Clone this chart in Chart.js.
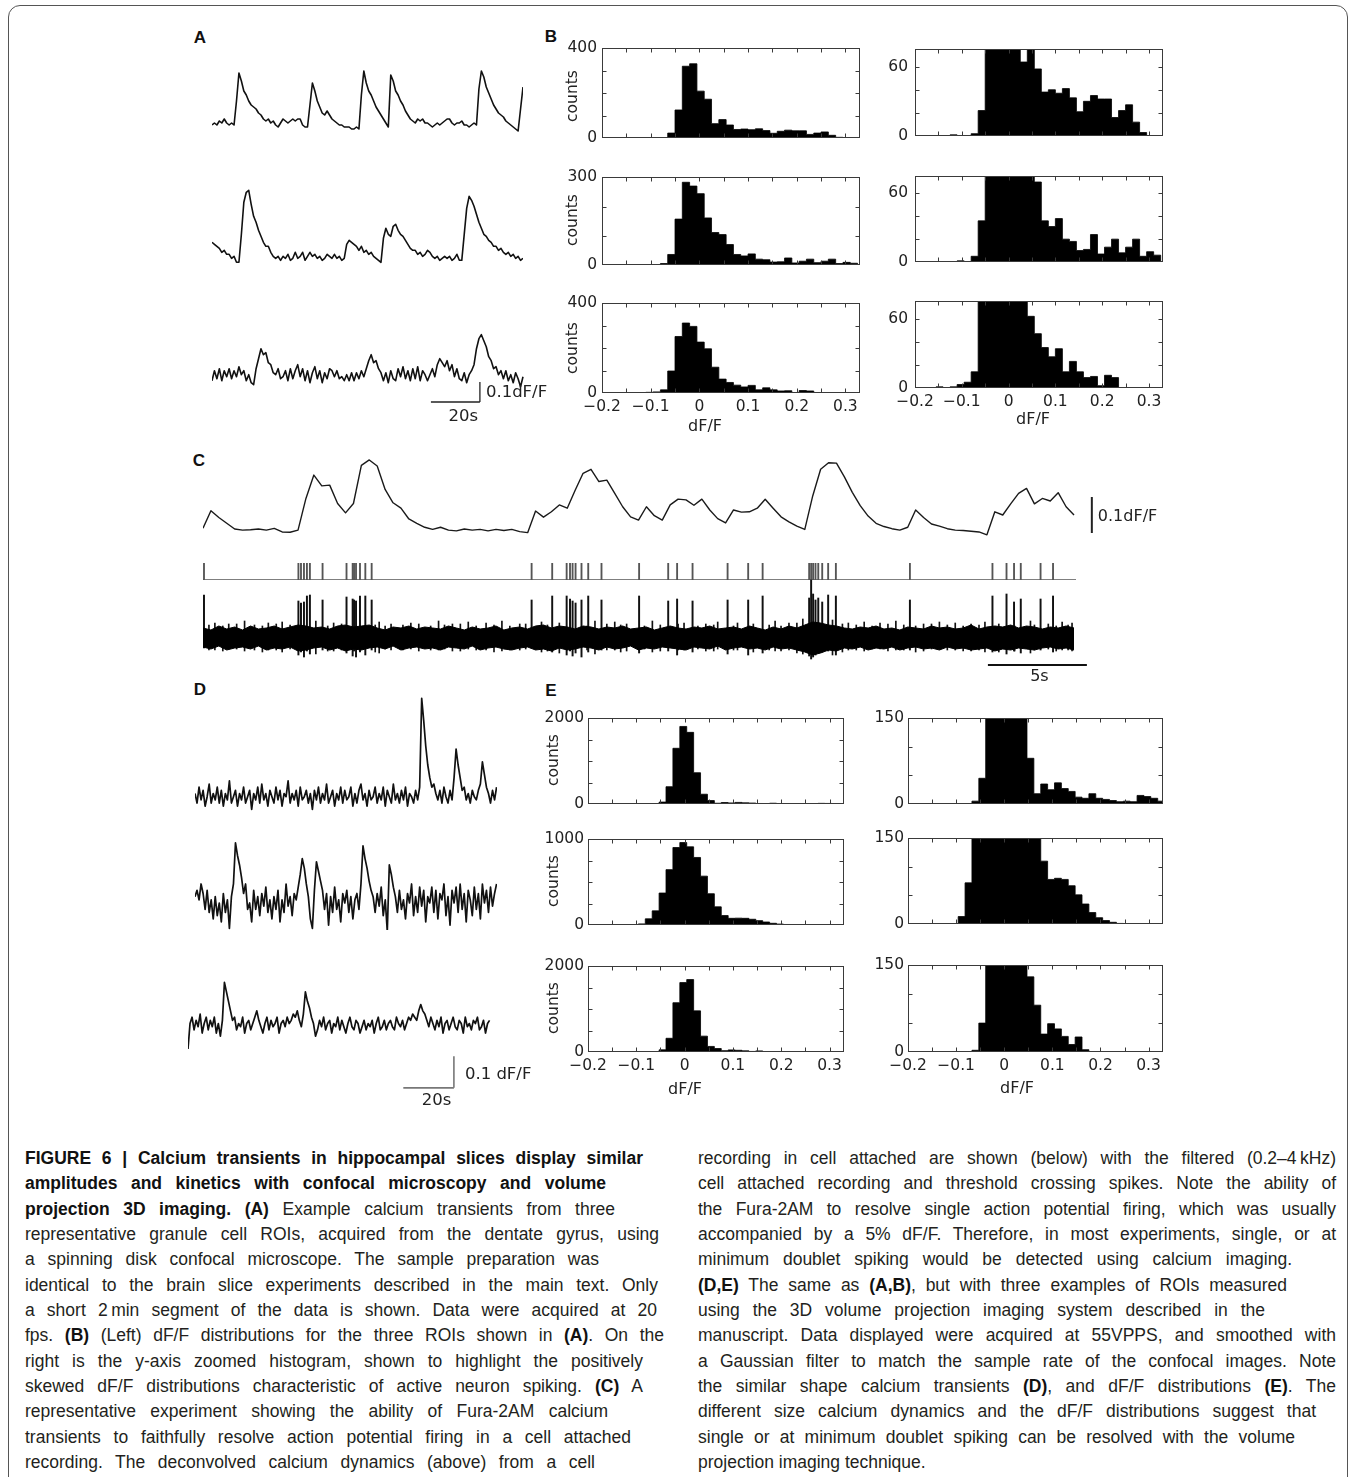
<!DOCTYPE html>
<html><head><meta charset="utf-8">
<script src="https://cdn.jsdelivr.net/npm/chart.js@4.4.1/dist/chart.umd.min.js"></script>
<style>
html,body{margin:0;padding:0;background:#fff;}
#page{position:relative;width:1355px;height:1477px;overflow:hidden;background:#fff;}
canvas{position:absolute;}
.frame{position:absolute;left:8px;top:5px;width:1340px;height:1600px;border:1.5px solid #555;border-radius:12px;box-sizing:border-box;}
.panel{position:absolute;font-family:'Liberation Sans',Arial,sans-serif;font-weight:bold;font-size:17px;color:#111;transform:translate(-50%,-50%);}
.lbl{position:absolute;font-family:'DejaVu Sans',sans-serif;color:#222;white-space:nowrap;transform:translate(-50%,-50%);}
.rot{transform:translate(-50%,-50%) rotate(-90deg);}
.cap{position:absolute;font-family:'Liberation Sans',Arial,sans-serif;font-size:17.5px;line-height:22px;color:#231f20;white-space:nowrap;transform-origin:0 50%;}
.cap b{font-weight:bold;color:#111;}
</style></head>
<body><div id="page"><div class="frame"></div></div>
<script>
// ---------------- DATA ----------------
// Panel A traces (dF/F in %, one sample per second)
const A_DT = 1;
const A1_TRACE = [0,1,0,2,1,3,1,0,1,0, 12,26,22,17,15,12,10,9,8,6, 5,3,2,3,1,2,0,-1,1,3, 2,1,2,3,2,3,3,0,-1,-1,
  10,21,17,12,9,6,5,7,5,3, 2,1,0,0,-1,-1,-1,-2,-2,-1, -2,15,27,21,17,15,12,9,7,5, 3,1,-1,25,22,17,15,12,10,7,
  5,3,2,1,3,2,3,1,1,0, -1,0,1,0,1,2,3,3,1,0, 1,1,2,0,0,-1,0,1,0,18, 27,24,19,16,13,10,8,6,5,4, 2,1,0,-1,-2,-3,8,19];
const A2_TRACE = [8,7,6,5,3,4,2,2,0,1, -2,-2,12,28,33,34,27,21,18,14, 11,8,6,6,3,1,0,1,-1,1, 0,2,-1,0,3,0,1,3,-1,1,
  3,1,2,0,1,-1,0,2,1,0, 2,0,1,-1,0,7,9,8,7,6, 4,6,3,4,2,3,1,0,-1,-2, 10,15,12,11,16,17,14,12,11,9,
  7,5,4,4,2,3,1,2,4,3, 1,0,1,-1,0,1,0,1,-1,0, 2,-1,-1,12,25,31,29,26,22,18, 15,12,11,9,8,6,6,4,5,3, 2,3,1,2,0,1,-1,0];
const A3_TRACE = [-2,3,-1,4,-2,3,0,4,-1,3, 0,5,1,3,-2,1,-3,-4,4,9, 14,11,12,7,6,2,1,4,-1,0, 3,-2,4,-1,3,6,0,4,-2,3,
  -3,2,5,-1,3,-3,2,-1,4,3, 0,3,-1,0,-2,1,-2,2,-2,2, -1,3,0,4,8,11,7,8,4,2, -2,2,-3,3,-1,-2,4,0,5,-1,
  3,-2,4,-1,5,-2,3,1,-2,1, 4,0,6,9,7,5,8,3,6,0, 4,-1,-2,2,-3,1,3,6,14,19, 21,18,15,10,8,4,5,1,3,-1, 3,-2,1,-3,2,-1,-5,0];

// Histogram bins (dF/F) and counts
const X_TICK_VALS = [-0.2,-0.15,-0.1,-0.05,0,0.05,0.1,0.15,0.2,0.25,0.3];
const X_LABEL_VALS = [-0.2,-0.1,0,0.1,0.2,0.3];
const X_LABELS = ['\u22120.2','\u22120.1','0','0.1','0.2','0.3'];
const B_BIN_START = -0.2, B_BIN_WIDTH = 0.015;
const B1_COUNTS = [0,0,0,0,0,1,0,0,2,22,125,320,331,209,173,64,82,58,38,40,37,41,33,21,30,35,32,32,16,22,27,12,3,0,0,0];
const B2_COUNTS = [0,0,0,0,0,0,1,0,5,36,157,283,270,244,161,111,104,70,36,31,38,20,18,10,11,24,7,13,20,8,13,20,5,9,6,0];
const B3_COUNTS = [0,0,0,1,0,1,3,5,14,98,252,312,297,227,197,115,62,47,35,27,34,14,23,14,9,10,2,11,9,0,0,0,0,0,0,0];
const E_BIN_START = -0.1958, E_BIN_WIDTH = 0.0143;
const E1_COUNTS = [0,0,0,0,0,0,0,0,0,5,45,403,1300,1810,1672,730,228,80,18,35,25,37,27,22,12,10,18,10,8,6,4,5,4,15,13,10,5,1];
const E2_COUNTS = [0,0,0,0,0,0,0,13,72,165,373,646,904,962,912,788,570,365,212,110,78,80,78,67,51,35,20,11,6,3,1,0,0,0,0,0,0,0];
const E3_COUNTS = [0,0,0,0,0,0,0,0,0,3,50,320,1150,1620,1690,960,370,130,81,31,49,40,27,13,26,4,0,0,0,0,0,0,0,0,0,0,0,0];

// Panel C: deconvolved calcium (dF/F %, 0.4 s samples), spikes, filtered recording
const C_DT = 0.4;
const C_CALCIUM = [1.3,6.2,4.3,2.7,1.1,0.8,0.9,1.1,0.8,1.3, 0.3,0.2,0.8,9.6,16.1,13.1,13.3,8.2,5.6,8.2,
  18.8,20.3,18.6,12.1,8.4,6.9,3.9,2.7,1.6,1.0, 1.6,0.8,0.6,1.1,0.8,1.0,0.6,1.0,0.7,1.0,
  0.4,0.1,6.1,4.4,5.9,7.8,6.9,11.9,16.6,17.7, 14.3,14.7,11.0,7.3,4.5,3.6,7.3,4.8,3.6,7.8,
  9.4,9.2,7.7,9.4,6.4,4.0,2.8,6.4,5.8,5.9, 6.9,9.4,6.9,4.5,3.1,1.9,1.0,10.3,17.7,19.5,
  19.4,15.6,11.3,7.6,4.7,2.7,1.8,1.2,0.8,1.6, 6.4,4.3,2.5,1.9,1.2,0.8,0.7,0.5,0.3,-0.5,
  5.9,5.0,8.1,11.0,12.4,8.1,9.6,8.9,11.2,7.3,5.0];
const C_T_END = 44.1;
const SPIKE_TIMES = [0.05,4.82,4.95,5.10,5.25,5.40,6.04,7.25,7.56,7.63,7.73,7.93,8.20,8.52,16.60,17.64,18.37,18.54,18.67,18.82,
  19.12,19.46,20.13,22.03,23.50,23.95,24.73,26.50,27.54,28.27,30.62,30.72,30.82,30.94,31.08,31.28,31.58,31.97,35.71,
  39.88,40.59,40.97,41.31,42.31,42.94];
const AP_PEAK = [43,37,35,36,42,43,38,41,39,38,37,42,42,38,38,42,42,39,37,35,38,42,38,42,37,39,37,38,38,42,40,58,44,38,40,36,43,42,38,42,44,36,39,39,42];
const AP_TROUGH = [-10,-17,-14,-19,-13,-16,-12,-15,-18,-13,-19,-14,-17,-12,-10,-14,-17,-13,-18,-15,-19,-14,-12,-15,-13,-17,-14,-16,-17,-15,-18,-21,-19,-17,-15,-14,-13,-17,-12,-14,-16,-13,-15,-12,-14];
const EPHYS_UPPER = [10,8,12,9,11,8,12,9,10,12, 9,11,13,12,10,11,9,12,13,11, 12,13,10,8,11,10,12,9,11,10, 9,12,10,8,11,9,10,12,8,10,
  11,9,12,13,10,12,11,9,12,11, 9,11,10,12,9,10,11,8,10,12, 10,9,11,10,12,9,10,11,9,12, 10,8,11,9,12,10,13,16,15,13,
  12,10,9,11,10,12,9,10,8,11, 10,9,12,10,11,9,10,13,9,11, 12,11,13,10,12,11,9,11,10,12,10];
const EPHYS_LOWER = [-9,-11,-8,-12,-10,-9,-11,-8,-12,-10, -11,-9,-13,-12,-10,-9,-12,-10,-13,-11, -12,-10,-9,-11,-8,-12,-10,-9,-11,-10,
  -12,-9,-10,-11,-8,-12,-10,-9,-11,-12, -10,-9,-12,-11,-13,-10,-12,-11,-9,-10, -12,-9,-11,-10,-8,-12,-10,-11,-9,-10,
  -11,-12,-9,-10,-11,-8,-12,-10,-9,-11, -10,-12,-9,-11,-10,-12,-14,-17,-15,-12, -13,-10,-11,-9,-12,-10,-11,-9,-12,-10,
  -9,-11,-10,-12,-9,-11,-10,-12,-11,-10, -13,-11,-12,-10,-11,-12,-10,-9,-11,-10,-12];
const HAIR_T = [0.6,1.3,2.1,3.3,4.0,5.7,6.6,8.9,9.5,10.5,11.9,12.6,13.4,14.3,15.1,16.0,17.1,18.0,19.8,20.8,21.4,22.7,24.3,25.4,26.0,
  27.0,28.9,29.6,30.3,31.8,32.6,33.4,34.2,35.0,36.4,37.2,38.0,38.8,39.5,41.8,43.4,43.9];
const HAIR_HI = [15,14,17,15,16,17,15,16,14,15,17,14,16,15,17,14,16,15,17,16,14,17,15,14,16,15,17,15,19,18,15,16,15,17,14,16,15,14,16,17,16,15];
const HAIR_LO = [-12,-11,-13,-12,-14,-16,-13,-15,-12,-11,-12,-13,-11,-12,-13,-12,-14,-15,-16,-12,-13,-14,-12,-13,-11,-12,-13,-12,-16,-17,-12,-13,-11,-12,-13,-11,-12,-13,-14,-15,-12,-13];
const HAIR2_T = [0.3,1.0,1.7,2.6,3.0,3.7,4.4,6.3,7.0,8.7,9.2,10.1,10.9,11.5,12.2,13.0,13.8,14.7,15.5,16.3,17.4,19.4,20.4,21.1,22.3,
  23.1,24.0,25.0,25.8,26.8,27.8,28.6,29.2,30.0,32.3,33.0,33.8,34.6,35.4,36.0,36.8,37.6,38.4,39.2,40.2,41.0,42.0,42.7,43.1,43.7];
const HAIR2_HI = [13,12,14,13,12,14,13,12,14,13,12,13,14,12,13,14,12,13,12,14,13,12,14,13,12,13,14,12,13,12,14,13,12,15,14,13,12,14,13,12,14,13,12,13,14,12,13,14,12,13];
const HAIR2_LO = [-12,-13,-11,-12,-14,-12,-11,-13,-12,-14,-11,-12,-13,-12,-11,-13,-12,-14,-12,-11,-13,-12,-12,-14,-11,-13,-12,-11,-13,-12,-14,-12,-13,-15,-14,-12,-11,-13,-12,-14,-11,-12,-13,-12,-14,-13,-12,-11,-13,-12];

// Panel D traces (dF/F %, 0.8 s samples)
const D_DT = 0.8;
const D1_TRACE = [1,-2,3,-1,2,-3,0,4,-2,1, -1,3,-2,2,-3,1,-1,5,-2,0, 2,-3,1,-1,3,-2,0,2,-4,1, -1,3,-2,4,-1,1,-3,2,0,-2,
  3,-1,2,-3,1,0,5,-2,1,-1, 2,-3,3,-1,0,2,-2,1,-4,2, -1,3,-2,1,-1,4,-2,0,2,-3, 1,-1,3,-2,2,-1,0,3,-3,1,
  -2,2,4,-1,1,-3,2,-1,0,3, -2,1,-1,3,-3,2,0,-2,4,-1, 1,-2,2,-1,3,-3,1,0,-2,2, -1,3,31,24,16,10,6,3,4,1,
  -1,2,-2,3,0,-2,2,-1,6,15, 10,6,2,3,-1,1,-2,2,0,-1, 2,4,11,7,3,1,-2,2,-1,3];
const D2_TRACE = [2,4,1,6,3,-2,4,-3,1,-5, 2,-4,0,-6,3,-3,1,-8,2,6, 19,15,12,8,3,6,-2,0,-6,4, -2,2,-4,3,-1,5,-3,1,-5,2,
  -2,4,-6,1,-3,6,-1,2,-4,3, 1,5,9,14,11,6,2,-5,-8,4, 13,10,7,4,-2,3,-7,2,-3,5, -2,1,-6,3,0,4,-3,2,-5,1,
  3,-2,6,18,14,11,7,4,2,-3, 3,-1,5,-4,1,-9,12,9,5,2, -3,4,-2,1,-5,3,0,6,-4,2, -3,5,-1,4,-6,2,0,5,-3,4,
  -5,3,1,6,-4,2,-7,4,0,5, -3,6,-2,3,-6,4,1,-4,5,-2, 3,-5,6,0,4,-3,5,-1,3,6];
const D3_TRACE = [-7,1,3,-1,2,0,4,-2,1,3, -1,2,0,3,-2,1,-3,2,14,11, 8,5,2,3,-1,1,0,3,-2,1, 2,-1,1,3,5,2,0,-2,1,3,
  -1,2,0,1,3,-2,1,2,0,3, 1,2,4,3,5,2,0,4,11,8, 6,3,1,-3,-1,2,0,3,-1,1, 2,-2,1,0,3,-1,2,0,-2,1,
  3,0,-1,2,1,-2,0,2,-1,1, 0,2,-2,1,3,-1,0,2,-1,1, 2,0,-1,3,1,0,2,-1,1,3, 2,4,3,2,5,7,5,4,2,0,
  3,1,-1,2,0,3,-2,1,2,-1, 1,3,0,-1,2,1,-2,3,0,1, -1,2,1,3,-1,0,2,-2,1,2];

// scale-bar sizes
const BAR_SECONDS_AD = 20, BAR_DFF = 10, BAR_SECONDS_C = 5;

// ---------------- PLUMBING ----------------
Chart.defaults.font.family = "'DejaVu Sans', sans-serif";
const page = document.getElementById('page');
function canvasAt(l, t, w, h) {
  const c = document.createElement('canvas');
  c.width = w; c.height = h;
  c.style.left = l + 'px'; c.style.top = t + 'px';
  c.style.width = w + 'px'; c.style.height = h + 'px';
  page.appendChild(c);
  return c;
}
const scaleBarPlugin = {
  id: 'scaleBar',
  afterDatasetsDraw(chart, args, o) {
    if (!o || !o.lines) return;
    const ctx = chart.ctx, xs = chart.scales.x, ys = chart.scales.y;
    ctx.save();
    ctx.strokeStyle = o.color; ctx.lineWidth = o.width; ctx.lineCap = 'butt';
    for (const l of o.lines) {
      ctx.beginPath();
      ctx.moveTo(xs.getPixelForValue(l[0]), ys.getPixelForValue(l[1]));
      ctx.lineTo(xs.getPixelForValue(l[2]), ys.getPixelForValue(l[3]));
      ctx.stroke();
    }
    ctx.fillStyle = '#222'; ctx.font = o.font;
    for (const t of (o.texts || [])) {
      ctx.textAlign = t.align; ctx.textBaseline = 'middle';
      ctx.fillText(t.text, xs.getPixelForValue(t.x) + (t.dx || 0), ys.getPixelForValue(t.y) + (t.dy || 0));
    }
    ctx.restore();
  }
};
const boxTicksPlugin = {
  id: 'boxTicks',
  afterDatasetsDraw(chart, args, o) {
    if (!o || !o.enabled) return;
    const ctx = chart.ctx, a = chart.chartArea, xs = chart.scales.x, ys = chart.scales.y;
    ctx.save();
    ctx.strokeStyle = '#3a3a3a'; ctx.lineWidth = 1;
    const L = Math.round(a.left) + 0.5, R = Math.round(a.right) - 0.5, T = Math.round(a.top) + 0.5, B = Math.round(a.bottom) - 0.5;
    ctx.beginPath();
    for (const v of o.xTicks) {
      const p = Math.round(xs.getPixelForValue(v)) + 0.5;
      if (p > L + 1 && p < R - 1) { ctx.moveTo(p, B); ctx.lineTo(p, B - o.len); ctx.moveTo(p, T); ctx.lineTo(p, T + o.len); }
    }
    for (const v of o.yTicks) {
      const p = Math.round(ys.getPixelForValue(v)) + 0.5;
      if (p > T + 1 && p < B - 1) { ctx.moveTo(L, p); ctx.lineTo(L + o.len, p); ctx.moveTo(R, p); ctx.lineTo(R - o.len, p); }
    }
    ctx.stroke();
    ctx.strokeRect(L, T, R - L, B - T);
    ctx.restore();
  }
};
Chart.register(scaleBarPlugin, boxTicksPlugin);

function lineDS(arr, dt, color, width) {
  return {data: arr.map((v, i) => ({x: i * dt, y: v})), borderColor: color, borderWidth: width,
    pointRadius: 0, fill: false, tension: 0, clip: false, borderJoinStyle: 'round'};
}
function traceChart(area, pad, xr, yr, datasets, scaleBar) {
  const c = canvasAt(area[0] - pad[0], area[1] - pad[1], area[2] + pad[0] + pad[2], area[3] + pad[1] + pad[3]);
  return new Chart(c, {
    type: 'line',
    data: {datasets},
    options: {
      responsive: false, animation: false, devicePixelRatio: 1, events: [],
      layout: {padding: {left: pad[0], top: pad[1], right: pad[2], bottom: pad[3]}},
      scales: {
        x: {type: 'linear', display: false, min: xr[0], max: xr[1], offset: false},
        y: {type: 'linear', display: false, min: yr[0], max: yr[1]}
      },
      plugins: {legend: {display: false}, tooltip: {enabled: false}, scaleBar: scaleBar || {}}
    }
  });
}
function histChart(box, counts, binStart, binWidth, yMax, yTicks, showX, yPad) {
  const YW = 50, PT = 12, PR = 14, XH = 28;
  const c = canvasAt(box[0] - YW, box[1] - PT, box[2] + YW + PR, box[3] + PT + XH);
  const pts = counts.map((v, i) => ({x: binStart + i * binWidth, y: v}));
  pts.push({x: binStart + counts.length * binWidth, y: 0});
  return new Chart(c, {
    type: 'line',
    data: {datasets: [{data: pts, stepped: 'before', fill: 'origin', backgroundColor: '#000',
      borderColor: '#000', borderWidth: 0.8, pointRadius: 0}]},
    options: {
      responsive: false, animation: false, devicePixelRatio: 1, events: [],
      layout: {padding: {left: 0, top: PT, right: PR, bottom: 0}},
      scales: {
        x: {type: 'linear', min: -0.2, max: 0.33, offset: false,
          grid: {display: false, drawTicks: false}, border: {display: false},
          afterBuildTicks: s => { s.ticks = X_TICK_VALS.map(v => ({value: v})); },
          afterFit: s => { s.height = XH; },
          ticks: {display: showX, padding: 5, autoSkip: false, maxRotation: 0, color: '#222',
            font: {family: "'DejaVu Sans'", size: 15.5},
            callback: v => { const k = X_LABEL_VALS.findIndex(u => Math.abs(u - v) < 1e-9); return k >= 0 ? X_LABELS[k] : ''; }}},
        y: {type: 'linear', min: 0, max: yMax,
          grid: {display: false, drawTicks: false}, border: {display: false},
          afterBuildTicks: s => { s.ticks = yTicks.map(v => ({value: v})); },
          afterFit: s => { s.width = YW; },
          ticks: {padding: yPad, autoSkip: false, color: '#222', font: {family: "'DejaVu Sans'", size: 15.5},
            callback: v => (v === 0 || v === yTicks[yTicks.length - 1]) ? String(v) : ''}}
      },
      plugins: {legend: {display: false}, tooltip: {enabled: false},
        boxTicks: {enabled: true, xTicks: X_TICK_VALS, yTicks: yTicks, len: 4}}
    }
  });
}
function addText(cls, text, x, y, size) {
  const d = document.createElement('div');
  d.className = cls; d.textContent = text;
  d.style.left = x + 'px'; d.style.top = y + 'px';
  if (size) d.style.fontSize = size + 'px';
  page.appendChild(d);
  return d;
}
function spikeBars(times, lo, hi, color, thickness) {
  return {type: 'bar', data: times.map((t, i) => ({x: t, y: [lo[i], hi[i]]})), backgroundColor: color,
    barThickness: thickness, grouped: false, clip: false};
}

// ---------------- PANEL LETTERS ----------------
addText('panel', 'A', 200, 38); addText('panel', 'B', 551, 37); addText('panel', 'C', 199, 461);
addText('panel', 'D', 200, 690); addText('panel', 'E', 551, 691);

// ---------------- PANEL A ----------------
const A_BAR_X = 109.4, A_BAR_Y = -12.65;
traceChart([212, 60, 311, 80], [0, 0, 0, 0], [0, 127], [-7.5, 32.5], [lineDS(A1_TRACE, A_DT, '#111', 1.6)]);
traceChart([212, 180, 311, 100], [0, 0, 0, 0], [0, 127], [-10.85, 39.15], [lineDS(A2_TRACE, A_DT, '#111', 1.6)]);
traceChart([212, 320, 311, 80], [0, 0, 90, 35], [0, 127], [-11.65, 28.35], [lineDS(A3_TRACE, A_DT, '#111', 1.6)], {
  color: '#222', width: 1.3, font: "16.5px 'DejaVu Sans'",
  lines: [[A_BAR_X, A_BAR_Y, A_BAR_X, A_BAR_Y + BAR_DFF], [A_BAR_X - BAR_SECONDS_AD, A_BAR_Y, A_BAR_X, A_BAR_Y]],
  texts: [{text: '0.1dF/F', x: A_BAR_X, y: A_BAR_Y + BAR_DFF / 2, dx: 6, dy: 1, align: 'left'},
          {text: '20s', x: A_BAR_X - BAR_SECONDS_AD / 2, y: A_BAR_Y, dx: 8, dy: 15, align: 'center'}]
});

// ---------------- PANEL B ----------------
const B_L_TICKS4 = [0, 100, 200, 300, 400], B_L_TICKS3 = [0, 100, 200, 300], B_R_TICKS = [0, 20, 40, 60];
histChart([602, 46, 258, 92], B1_COUNTS, B_BIN_START, B_BIN_WIDTH, 400, B_L_TICKS4, false, 5);
histChart([602, 175, 258, 90], B2_COUNTS, B_BIN_START, B_BIN_WIDTH, 300, B_L_TICKS3, false, 5);
histChart([602, 301, 258, 92], B3_COUNTS, B_BIN_START, B_BIN_WIDTH, 400, B_L_TICKS4, true, 5);
histChart([915, 45, 248, 91], B1_COUNTS, B_BIN_START, B_BIN_WIDTH, 75, B_R_TICKS, false, 7);
histChart([915, 172, 248, 90], B2_COUNTS, B_BIN_START, B_BIN_WIDTH, 75, B_R_TICKS, false, 7);
histChart([915, 297, 248, 91], B3_COUNTS, B_BIN_START, B_BIN_WIDTH, 75, B_R_TICKS, true, 7);
for (const y of [96, 220, 348]) addText('lbl rot', 'counts', 572, y, 15.5);
addText('lbl', 'dF/F', 705, 425, 16);
addText('lbl', 'dF/F', 1033, 418, 16);

// ---------------- PANEL C ----------------
const C_PX_PER_S = 19.8;
const C_W = Math.round(C_T_END * C_PX_PER_S);
const C_VBAR_X = 44.9, C_TBAR_END = 44.65, C_TBAR_Y = -27;
traceChart([203, 450, C_W, 95], [0, 0, 95, 0], [0, C_T_END], [-3.33, 23.06], [lineDS(C_CALCIUM, C_DT, '#1a1a1a', 1.4)], {
  color: '#222', width: 2, font: "16px 'DejaVu Sans'",
  lines: [[C_VBAR_X, 0, C_VBAR_X, BAR_DFF]],
  texts: [{text: '0.1dF/F', x: C_VBAR_X, y: BAR_DFF / 2, dx: 6, dy: 2, align: 'left'}]
});
// spike raster
traceChart([203, 563, C_W, 17], [0, 0, 0, 0], [0, C_T_END], [0, 1], [
  {data: [{x: 0, y: 0}, {x: C_T_END, y: 0}], borderColor: '#555', borderWidth: 1.3, pointRadius: 0, fill: false, clip: false},
  {type: 'bar', data: SPIKE_TIMES.map(t => ({x: t, y: [0, 1]})), backgroundColor: '#555', barThickness: 1.2, grouped: false, clip: false}
]);
// filtered cell-attached recording
traceChart([203, 570, C_W, 100], [0, 0, 25, 25], [0, C_T_END], [-32, 68], [
  {data: EPHYS_UPPER.map((v, i) => ({x: i * C_DT, y: v})), borderColor: '#000', borderWidth: 1, backgroundColor: '#000',
    fill: '+1', pointRadius: 0, tension: 0, clip: false},
  {data: EPHYS_LOWER.map((v, i) => ({x: i * C_DT, y: v})), borderColor: '#000', borderWidth: 1, fill: false, pointRadius: 0, tension: 0, clip: false},
  spikeBars(SPIKE_TIMES, AP_TROUGH, AP_PEAK, '#111', 1.3),
  spikeBars(HAIR_T, HAIR_LO, HAIR_HI, '#111', 1),
  spikeBars(HAIR2_T, HAIR2_LO, HAIR2_HI, '#111', 1)
], {
  color: '#111', width: 2, font: "16px 'DejaVu Sans'",
  lines: [[C_TBAR_END - BAR_SECONDS_C, C_TBAR_Y, C_TBAR_END, C_TBAR_Y]],
  texts: [{text: '5s', x: C_TBAR_END - BAR_SECONDS_C / 2, y: C_TBAR_Y, dx: 2, dy: 12, align: 'center'}]
});

// ---------------- PANEL D ----------------
const D_PX_PER_S = 2.53, D_XMAX = 302 / D_PX_PER_S;
const D_BAR_X = 105.1, D_BAR_Y = -19.3;
traceChart([195, 690, 302, 130], [0, 0, 0, 0], [0, D_XMAX], [-7.35, 33.66], [lineDS(D1_TRACE, D_DT, '#111', 1.7)]);
traceChart([195, 830, 302, 100], [0, 0, 0, 0], [0, D_XMAX], [-8.52, 23.03], [lineDS(D2_TRACE, D_DT, '#111', 1.7)]);
traceChart([188, 975, 302, 80], [0, 0, 100, 50], [0, D_XMAX], [-8.93, 16.31], [lineDS(D3_TRACE, D_DT, '#111', 1.7)], {
  color: '#777', width: 1.6, font: "16.5px 'DejaVu Sans'",
  lines: [[D_BAR_X, D_BAR_Y, D_BAR_X, D_BAR_Y + BAR_DFF], [D_BAR_X - BAR_SECONDS_AD, D_BAR_Y, D_BAR_X, D_BAR_Y]],
  texts: [{text: '0.1 dF/F', x: D_BAR_X, y: D_BAR_Y + BAR_DFF / 2, dx: 11, dy: 3, align: 'left'},
          {text: '20s', x: D_BAR_X - BAR_SECONDS_AD / 2, y: D_BAR_Y, dx: 8, dy: 13, align: 'center'}]
});

// ---------------- PANEL E ----------------
const E_L_TICKS2K = [0, 500, 1000, 1500, 2000], E_L_TICKS1K = [0, 250, 500, 750, 1000], E_R_TICKS = [0, 50, 100, 150];
histChart([588, 717, 256, 87], E1_COUNTS, E_BIN_START, E_BIN_WIDTH, 2000, E_L_TICKS2K, false, 4);
histChart([588, 838, 256, 87], E2_COUNTS, E_BIN_START, E_BIN_WIDTH, 1000, E_L_TICKS1K, false, 4);
histChart([588, 965, 256, 87], E3_COUNTS, E_BIN_START, E_BIN_WIDTH, 2000, E_L_TICKS2K, true, 4);
histChart([908, 717, 255, 87], E1_COUNTS, E_BIN_START, E_BIN_WIDTH, 150, E_R_TICKS, false, 4);
histChart([908, 837, 255, 87], E2_COUNTS, E_BIN_START, E_BIN_WIDTH, 150, E_R_TICKS, false, 4);
histChart([908, 964, 255, 88], E3_COUNTS, E_BIN_START, E_BIN_WIDTH, 150, E_R_TICKS, true, 4);
for (const y of [760, 881, 1008]) addText('lbl rot', 'counts', 553, y, 15.5);
addText('lbl', 'dF/F', 685, 1088, 16);
addText('lbl', 'dF/F', 1017, 1087, 16);

// ---------------- CAPTION ----------------
const CAP_LEFT = [
  ['<b>FIGURE 6 | Calcium transients in hippocampal slices display similar</b>', 643],
  ['<b>amplitudes and kinetics with confocal microscopy and volume</b>', 606],
  ['<b>projection 3D imaging. (A)</b> Example calcium transients from three', 615],
  ['representative granule cell ROIs, acquired from the dentate gyrus, using', 659],
  ['a spinning disk confocal microscope. The sample preparation was', 599],
  ['identical to the brain slice experiments described in the main text. Only', 658],
  ['a short 2\u202Fmin segment of the data is shown. Data were acquired at 20', 657],
  ['fps. <b>(B)</b> (Left) dF/F distributions for the three ROIs shown in <b>(A)</b>. On the', 664],
  ['right is the y-axis zoomed histogram, shown to highlight the positively', 643],
  ['skewed dF/F distributions characteristic of active neuron spiking. <b>(C)</b> A', 643],
  ['representative experiment showing the ability of Fura-2AM calcium', 608],
  ['transients to faithfully resolve action potential firing in a cell attached', 631],
  ['recording. The deconvolved calcium dynamics (above) from a cell', 595]
];
const CAP_RIGHT = [
  ['recording in cell attached are shown (below) with the filtered (0.2\u20134\u202FkHz)', 1336],
  ['cell attached recording and threshold crossing spikes. Note the ability of', 1336],
  ['the Fura-2AM to resolve single action potential firing, which was usually', 1336],
  ['accompanied by a 5% dF/F. Therefore, in most experiments, single, or at', 1336],
  ['minimum doublet spiking would be detected using calcium imaging.', 1292],
  ['<b>(D,E)</b> The same as <b>(A,B)</b>, but with three examples of ROIs measured', 1287],
  ['using the 3D volume projection imaging system described in the', 1265],
  ['manuscript. Data displayed were acquired at 55VPPS, and smoothed with', 1336],
  ['a Gaussian filter to match the sample rate of the confocal images. Note', 1336],
  ['the similar shape calcium transients <b>(D)</b>, and dF/F distributions <b>(E)</b>. The', 1336],
  ['different size calcium dynamics and the dF/F distributions suggest that', 1316],
  ['single or at minimum doublet spiking can be resolved with the volume', 1295],
  ['projection imaging technique.', 0]
];
const CAP_Y0 = 1158, CAP_DY = 25.33;
function addCaption(lines, x0) {
  lines.forEach(([html, end], i) => {
    const d = document.createElement('div');
    d.className = 'cap'; d.innerHTML = html;
    d.style.left = x0 + 'px'; d.style.top = (CAP_Y0 + i * CAP_DY - 11) + 'px';
    page.appendChild(d);
    if (end) {
      const w = d.getBoundingClientRect().width, target = end - x0;
      const n = (d.textContent.match(/ /g) || []).length;
      if (w < target && n) d.style.wordSpacing = ((target - w) / n) + 'px';
      else if (w > target) d.style.transform = 'scaleX(' + (target / w) + ')';
    }
  });
}
addCaption(CAP_LEFT, 25);
addCaption(CAP_RIGHT, 698);
</script>
</body></html>
